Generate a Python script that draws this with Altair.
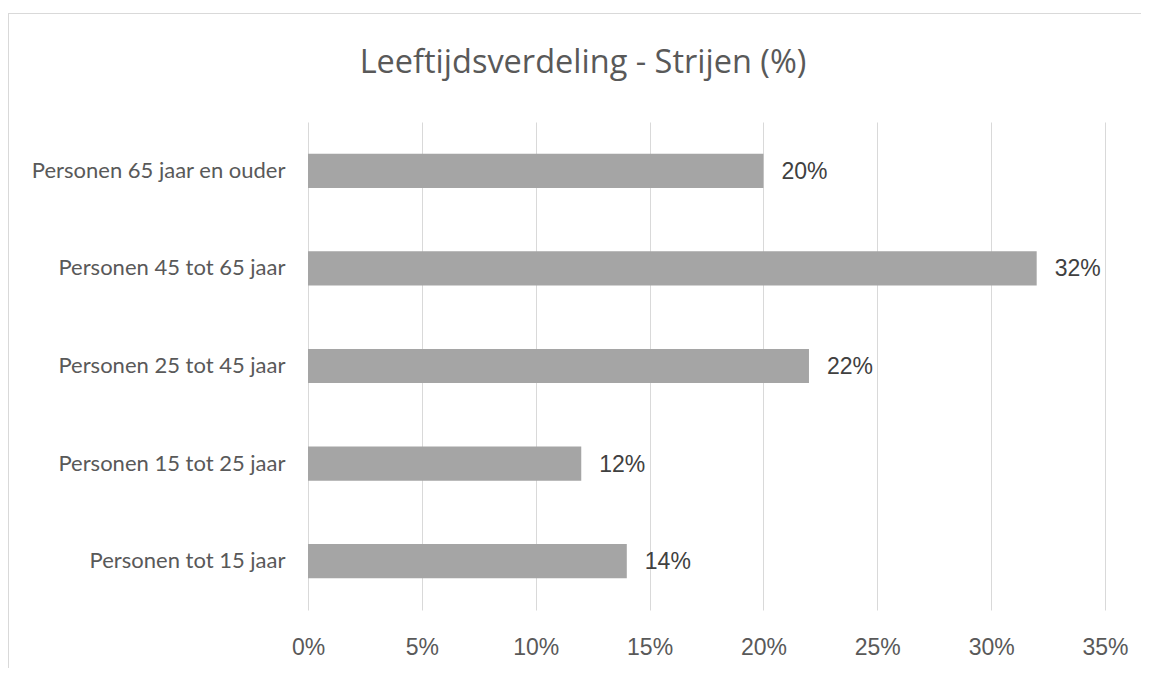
import altair as alt
import pandas as pd

categories = [
    "Personen 65 jaar en ouder",
    "Personen 45 tot 65 jaar",
    "Personen 25 tot 45 jaar",
    "Personen 15 tot 25 jaar",
    "Personen tot 15 jaar",
]
values = [20, 32, 22, 12, 14]
x_ticks = [0, 5, 10, 15, 20, 25, 30, 35]
title_text = "Leeftijdsverdeling - Strijen (%)"

df = pd.DataFrame({"category": categories, "value": values})

PLOT_W, PLOT_H = 797, 488
PAD_L, PAD_T = 300, 114

x_scale = alt.Scale(domain=[0, 35], nice=False, zero=True)
y_scale = alt.Scale(domain=categories, paddingInner=0.65, paddingOuter=0.325)

base = alt.Chart(df)

bars = base.mark_bar(color="#A5A5A5").encode(
    x=alt.X(
        "value:Q",
        scale=x_scale,
        axis=alt.Axis(
            values=x_ticks,
            labelExpr="datum.value + '%'",
            title=None,
            domain=False,
            ticks=False,
            tickSize=0,
            grid=True,
            gridColor="#D9D9D9",
            gridWidth=1,
            labelFont="Liberation Sans",
            labelFontSize=23,
            labelColor="#595959",
            labelPadding=26,
            labelBaseline="top",
            labelAlign="center",
            labelFlush=False,
        ),
    ),
    y=alt.Y(
        "category:N",
        scale=y_scale,
        sort=categories,
        axis=alt.Axis(
            title=None,
            domain=False,
            ticks=False,
            tickSize=0,
            grid=False,
            labelFont="Lato",
            labelFontSize=22,
            labelColor="#595959",
            labelPadding=23,
            labelLimit=400,
        ),
    ),
)

labels = base.transform_calculate(
    label="format(datum.value, '.0f') + '%'"
).mark_text(
    align="left",
    baseline="middle",
    dx=18,
    dy=1,
    font="Liberation Sans",
    fontSize=23,
    color="#404040",
).encode(
    x=alt.X("value:Q", scale=x_scale),
    y=alt.Y("category:N", scale=y_scale, sort=categories),
    text="label:N",
)

single = alt.Data(values=[{"t": title_text}])
title_mark = alt.Chart(single).mark_text(
    align="center",
    baseline="alphabetic",
    font="Open Sans",
    fontSize=32.5,
    color="#595959",
).encode(
    x=alt.value(275),
    y=alt.value(-49),
    text="t:N",
)

left_border = alt.Chart(single).mark_rule(color="#D9D9D9", strokeWidth=1).encode(
    x=alt.value(-299.5),
    y=alt.value(-108.5),
    y2=alt.value(546),
)
top_border = alt.Chart(single).mark_rule(color="#D9D9D9", strokeWidth=1).encode(
    x=alt.value(-300),
    x2=alt.value(833),
    y=alt.value(-108.5),
)

chart = alt.layer(bars, labels, title_mark, left_border, top_border).properties(
    width=PLOT_W,
    height=PLOT_H,
    padding={"left": PAD_L, "top": PAD_T, "right": 36, "bottom": 58},
    autosize=alt.AutoSizeParams(type="none"),
    background="white",
).configure_view(strokeWidth=0, stroke=None)

chart.save("out.html", embed_options={"renderer": "svg", "actions": False})
